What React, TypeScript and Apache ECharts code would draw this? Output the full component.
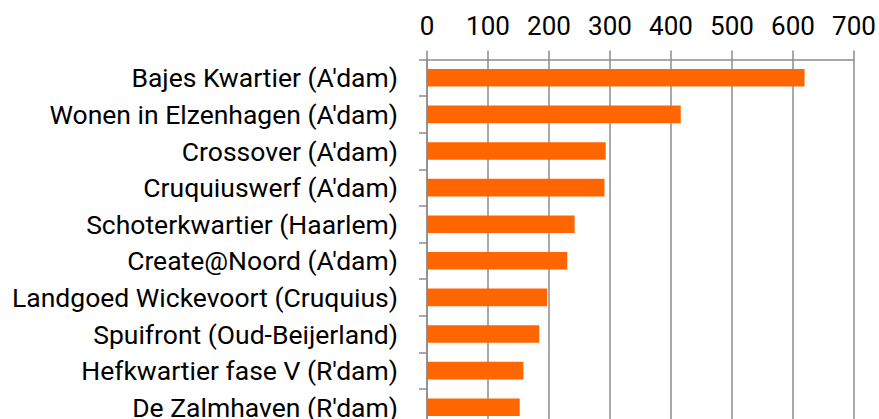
import React, { useEffect, useRef } from "react";
import * as echarts from "echarts";

const categories = [
  "Bajes Kwartier (A'dam)",
  "Wonen in Elzenhagen (A'dam)",
  "Crossover (A'dam)",
  "Cruquiuswerf (A'dam)",
  "Schoterkwartier (Haarlem)",
  "Create@Noord (A'dam)",
  "Landgoed Wickevoort (Cruquius)",
  "Spuifront (Oud-Beijerland)",
  "Hefkwartier fase V (R'dam)",
  "De Zalmhaven (R'dam)",
];
const values = [619, 416, 293, 291, 242, 230, 197, 184, 158, 152];
const xMin = 0;
const xMax = 700;
const xInterval = 100;

export default function App() {
  const ref = useRef<HTMLDivElement>(null);
  useEffect(() => {
    document.body.style.margin = "0";
    if (!ref.current) return;
    const chart = echarts.init(ref.current, null, { renderer: "svg" });
    const gray = "#8c8c8c";
    chart.setOption({
      animation: false,
      grid: { left: 427, right: 25, top: 59.5, bottom: 14.5, containLabel: false },
      xAxis: {
        type: "value",
        position: "top",
        min: xMin,
        max: xMax,
        interval: xInterval,
        axisLine: { show: true, lineStyle: { color: gray, width: 1.5 } },
        axisTick: { show: true, length: 9, lineStyle: { color: gray, width: 1.5 } },
        splitLine: { show: true, lineStyle: { color: gray, width: 1.5 } },
        axisLabel: {
          color: "#000",
          fontFamily: "Roboto",
          fontSize: 26,
          margin: 21,
        },
      },
      yAxis: {
        type: "category",
        data: categories,
        inverse: true,
        axisLine: { show: true, lineStyle: { color: gray, width: 1.5 } },
        axisTick: { show: true, length: 8, lineStyle: { color: gray, width: 1.5 } },
        splitLine: { show: false },
        axisLabel: {
          color: "#000",
          fontFamily: "Roboto",
          fontSize: 26.5,
          margin: 29,
        },
      },
      series: [
        {
          type: "bar",
          data: values,
          barWidth: "48%",
          itemStyle: { color: "#ff6600" },
        },
      ],
    });
    return () => chart.dispose();
  }, []);
  return <div ref={ref} style={{ width: 879, height: 440 }} />;
}
